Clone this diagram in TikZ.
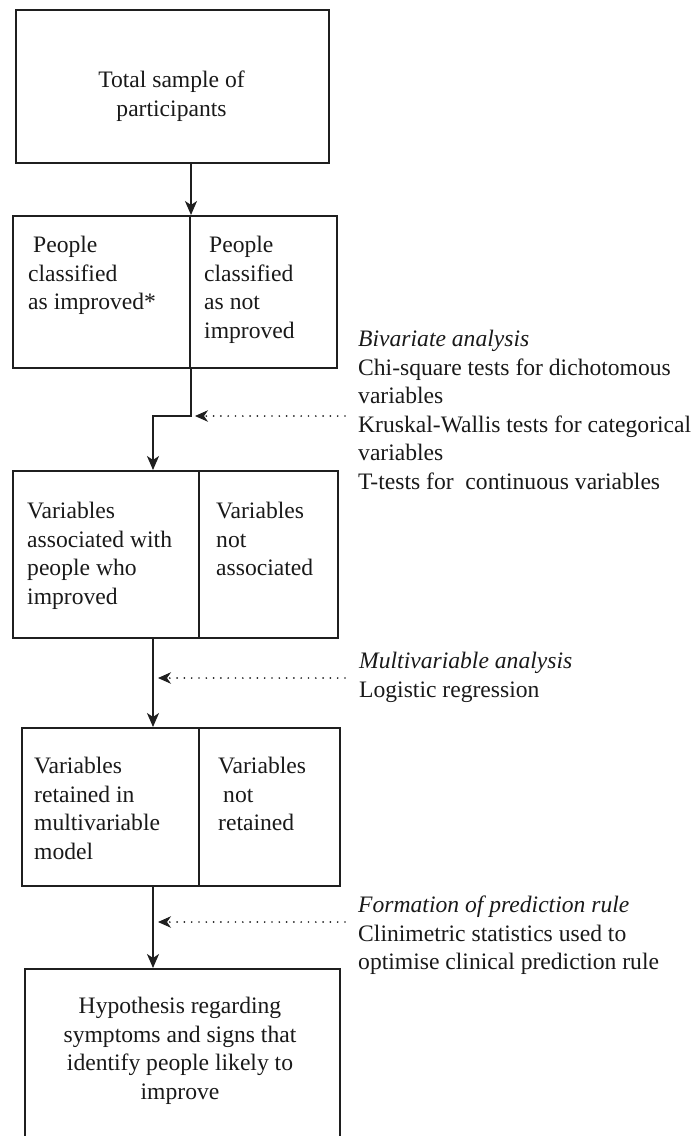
\documentclass[tikz,border=0pt]{standalone}
\usepackage{fontspec}
\setmainfont{Liberation Serif}
\usetikzlibrary{arrows.meta}
\tikzset{
	cell/.style={draw=black!88, line width=2pt, inner sep=0pt, anchor=north west},
	txt/.style={inner sep=0pt, anchor=north west, align=left, text=black!90, font=\fontsize{23.6}{28.5}\selectfont},
	flow/.style={draw=black!88, line width=2pt, -{Stealth[length=14pt,width=12pt,inset=4pt]}},
	hint/.style={draw=black!88, line width=1.9pt, line cap=round, dash pattern=on 0pt off 7.3pt, -{Stealth[length=13pt,width=11.5pt,inset=4pt,line width=1pt]}}
}

\begin{document}
\begin{tikzpicture}[x=1pt, y=-1pt]
			%%%%% START %%%%%
			\useasboundingbox (0, 0) rectangle (697, 1136);
			
			% boxes
			\node[cell, minimum width=313pt, minimum height=153pt] (total) at (15, 9) {};
			\node[cell, minimum width=177pt, minimum height=152pt] (imp) at (12, 215) {};
			\node[cell, minimum width=147pt, minimum height=152pt] (notimp) at (189, 215) {};
			\node[cell, minimum width=186pt, minimum height=167pt] (assoc) at (12, 470) {};
			\node[cell, minimum width=139pt, minimum height=167pt] (notassoc) at (198, 470) {};
			\node[cell, minimum width=177pt, minimum height=158pt] (kept) at (21, 727) {};
			\node[cell, minimum width=141pt, minimum height=158pt] (notkept) at (198, 727) {};
			\node[cell, minimum width=315pt, minimum height=175pt] (hyp) at (24, 968) {};
			
			% box texts
			\node[txt, anchor=north, align=center] (totaltxt) at (171.5, 71) {Total sample of\\participants};
			\node[txt] (imptxt) at (28, 236) {\hspace*{5pt}People\\classified\\as improved*};
			\node[txt] (notimptxt) at (204, 236) {\hspace*{5pt}People\\classified\\as not\\improved};
			\node[txt] (assoctxt) at (27, 502) {Variables\\associated with\\people who\\improved};
			\node[txt] (notassoctxt) at (216, 502) {Variables\\not\\associated};
			\node[txt] (kepttxt) at (34, 757) {Variables\\retained in\\multivariable\\model};
			\node[txt] (notkepttxt) at (218, 757) {Variables\\\hspace*{5pt}not\\retained};
			\node[txt, anchor=north, align=center] (hyptxt) at (180, 997) {Hypothesis regarding\\symptoms and signs that\\identify people likely to\\improve};
			
			% side notes
			\node[txt] (bivtxt) at (358, 330) {\textit{Bivariate analysis}\\Chi-square tests for dichotomous\\variables\\Kruskal-Wallis tests for categorical\\variables\\T-tests for\ \ continuous variables};
			\node[txt] (multtxt) at (359, 652) {\textit{Multivariable analysis}\\Logistic regression};
			\node[txt] (ruletxt) at (358, 896) {\textit{Formation of prediction rule}\\Clinimetric statistics used to\\optimise clinical prediction rule};
			
			% flow
			\coordinate (bend) at (153, 416);
			\draw[flow] (total.south -| imp.north east) -- (imp.north east);
			\draw[flow] (imp.south east) |- (bend) -- (bend |- assoc.north);
			\draw[flow] (assoc.south -| bend) -- (bend |- kept.north);
			\draw[flow] (kept.south -| bend) -- (bend |- hyp.north);
			
			% dotted pointers
			\coordinate (bivfrom) at (345, 416);
			\coordinate (bivto) at (195, 416);
			\coordinate (multfrom) at (345, 678);
			\coordinate (multto) at (158, 678);
			\coordinate (rulefrom) at (345, 922);
			\coordinate (ruleto) at (158, 922);
			\draw[hint] (bivfrom) -- (bivto);
			\draw[hint] (multfrom) -- (multto);
			\draw[hint] (rulefrom) -- (ruleto);
			
			%%%%% END %%%%%
\end{tikzpicture}
\end{document}
